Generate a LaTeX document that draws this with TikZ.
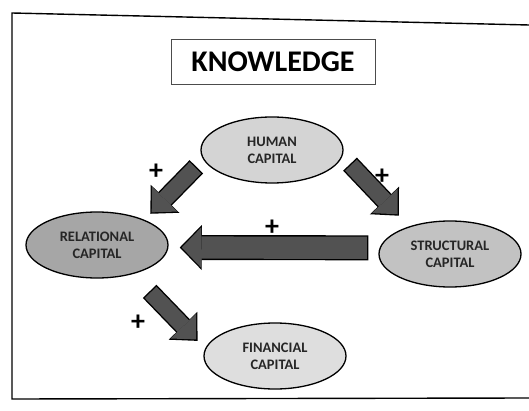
\documentclass[tikz,border=0pt]{standalone}
\usepackage{fontspec}
\setmainfont{Carlito}
\usepackage{tikz}
\usetikzlibrary{shapes.geometric}
\usetikzlibrary{arrows.meta}

\tikzset{
  frame/.style={draw=black, line width=1.4pt},
  title/.style={draw=black!70, line width=0.8pt, minimum width=204pt, minimum height=45pt,
    font=\fontsize{30}{30}\selectfont\bfseries},
  capital/.style={ellipse, draw=black, line width=1.3pt, minimum width=142pt,
    minimum height=66pt, inner sep=0pt, align=center, text=black!85,
    font=\fontsize{14.5}{17}\selectfont\bfseries},
  plus/.style={inner sep=0pt, font=\fontsize{28}{28}\selectfont\bfseries},
  push/.style 2 args={draw=black, line width=19pt,
    -{Triangle[width=40pt,length=21pt,line width=0pt]},
    shorten <=#1, shorten >=#2,
    postaction={draw=black!68, line width=16.2pt,
      -{Triangle[width=35.5pt,length=18.5pt,line width=0pt]},
      shorten <=#1+1.4pt, shorten >=#2+2pt}},
  pushwide/.style 2 args={draw=black, line width=25pt,
    -{Triangle[width=45pt,length=22pt,line width=0pt]},
    shorten <=#1, shorten >=#2,
    postaction={draw=black!68, line width=22.2pt,
      -{Triangle[width=40.5pt,length=19.5pt,line width=0pt]},
      shorten <=#1+1.4pt, shorten >=#2+2pt}}
}

\begin{document}
\begin{tikzpicture}[x=1pt,y=-1pt]
\useasboundingbox (0,0) rectangle (529,411);

\draw[frame] (529,25) -- (12,13) -- (12,399) -- (529,398);

\node[title] (know) at (273,62) {KNOWLEDGE};

\node[capital, fill=black!17] (hum) at (272,150) {HUMAN\\CAPITAL};
\node[capital, fill=black!35] (rel) at (97,245) {RELATIONAL\\CAPITAL};
\node[capital, fill=black!24] (str) at (450,254) {STRUCTURAL\\CAPITAL};
\node[capital, fill=black!13] (fin) at (275,356) {FINANCIAL\\CAPITAL};

\draw[push={10pt}{8.4pt}] (hum.188.5) -- (rel.28.7);
\draw[push={11pt}{14.7pt}] (hum.-5) -- (str.146.1);
\draw[pushwide={11.2pt}{11.3pt}] (str.175.1) -- (rel.-2.4);
\draw[push={24pt}{10.8pt}] (rel.-39.6) -- (fin.174.6);

\node[plus] (p1) at (156,172) {+};
\node[plus] (p2) at (382,177) {+};
\node[plus] (p3) at (272,228) {+};
\node[plus] (p4) at (138,323) {+};
\end{tikzpicture}
\end{document}
